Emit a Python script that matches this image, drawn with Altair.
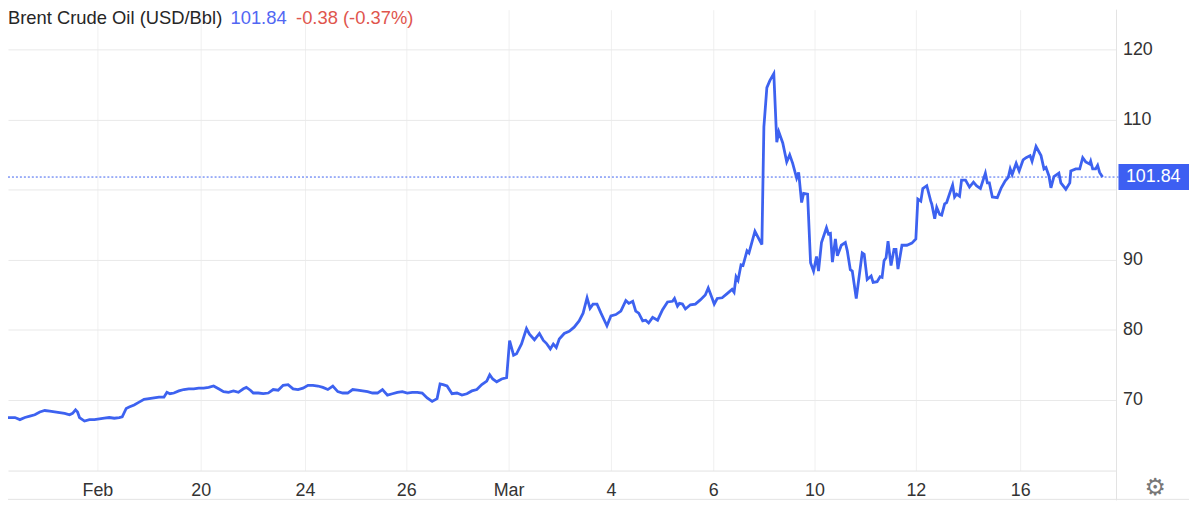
import altair as alt
import pandas as pd

# position on the (compressed) trading-session axis and Brent price
session_pos = [8, 15, 20, 25, 30, 35, 40, 45, 50, 55, 60, 65, 70, 73, 76, 78, 80, 85, 90, 95,
               100, 105, 110, 115, 120, 123, 127, 130, 135, 140, 145, 150, 155, 160, 165, 168, 171, 175, 180, 185,
               190, 195, 200, 205, 210, 215, 220, 225, 230, 235, 240, 245, 248, 252, 255, 260, 265, 270, 275, 280,
               285, 290, 295, 300, 305, 310, 315, 320, 325, 330, 335, 340, 345, 350, 355, 360, 365, 370, 375, 380,
               385, 390, 395, 400, 405, 410, 415, 420, 425, 430, 435, 440, 443, 446, 450, 455, 460, 465, 470, 475,
               480, 485, 490, 493, 496, 500, 505, 510, 513, 517, 520, 525, 530, 533, 538, 543, 547, 550, 554, 557,
               560, 563, 568, 573, 578, 583, 587, 591, 594, 597, 601, 605, 608, 611, 615, 620, 625, 630, 633, 637,
               640, 643, 647, 650, 653, 657, 662, 667, 672, 677, 679, 682, 684, 687, 690, 695, 700, 705, 710, 713,
               717, 719, 722, 727, 732, 737, 739, 741, 743, 746, 748, 752, 754, 760, 767, 769, 772, 775, 779, 782,
               784, 788, 792, 795, 798, 802, 804, 807, 809, 813, 816, 819, 822, 824, 827, 832, 834, 836, 838, 841,
               843, 847, 851, 853, 856, 858, 862, 868, 870, 873, 877, 879, 883, 886, 888, 890, 892, 894, 897, 900,
               902, 904, 908, 913, 918, 922, 924, 927, 929, 933, 937, 938, 941, 943, 946, 948, 951, 953, 957, 959,
               961, 963, 966, 968, 972, 976, 980, 983, 987, 992, 994, 996, 999, 1004, 1008, 1012, 1015, 1017, 1019, 1023,
               1026, 1030, 1033, 1037, 1039, 1043, 1048, 1051, 1053, 1056, 1058, 1061, 1066, 1068, 1073, 1077, 1078, 1083, 1087, 1090,
               1093, 1097, 1098, 1100, 1103, 1105, 1107, 1110]
price = [67.5, 67.5, 67.2, 67.5, 67.7, 67.9, 68.3, 68.5, 68.4, 68.3, 68.2, 68.1, 67.9, 68.1, 68.6, 68.3, 67.5, 67.0, 67.2, 67.2,
         67.3, 67.4, 67.5, 67.4, 67.5, 67.6, 68.8, 69.0, 69.3, 69.7, 70.1, 70.2, 70.3, 70.4, 70.4, 71.1, 70.9, 71.0, 71.3, 71.5,
         71.6, 71.6, 71.7, 71.7, 71.8, 72.0, 71.6, 71.2, 71.1, 71.3, 71.1, 71.6, 71.8, 71.4, 71.0, 71.0, 70.9, 71.0, 71.5, 71.4,
         72.1, 72.2, 71.6, 71.5, 71.7, 72.1, 72.1, 72.0, 71.8, 71.5, 72.0, 71.2, 71.0, 71.0, 71.5, 71.4, 71.3, 71.2, 71.0, 71.0,
         71.5, 70.7, 70.9, 71.1, 71.2, 71.0, 71.1, 71.1, 71.0, 70.3, 69.8, 70.2, 72.3, 72.2, 72.0, 70.9, 71.0, 70.7, 70.9, 71.3,
         71.5, 72.2, 72.7, 73.6, 73.0, 72.6, 73.0, 73.2, 78.5, 76.4, 76.6, 78.0, 80.2, 79.4, 78.6, 79.5, 78.5, 78.1, 77.3, 78.0,
         77.5, 78.7, 79.5, 79.8, 80.4, 81.3, 82.4, 84.6, 83.1, 83.7, 83.7, 82.4, 81.5, 80.6, 82.0, 82.2, 82.7, 84.2, 83.8, 84.1,
         82.7, 82.4, 81.3, 81.4, 81.0, 81.8, 81.4, 82.9, 84.0, 84.1, 84.5, 83.4, 83.8, 83.7, 83.0, 83.6, 83.7, 84.3, 85.0, 86.0,
         84.5, 83.7, 84.5, 84.6, 85.2, 85.8, 85.4, 87.6, 87.1, 89.3, 89.2, 91.3, 91.0, 94.1, 92.2, 109.0, 114.6, 115.6, 116.6, 106.8,
         108.3, 106.7, 104.0, 105.0, 103.8, 101.7, 102.5, 98.2, 99.5, 99.4, 89.6, 88.4, 90.5, 88.4, 92.5, 94.6, 93.7, 93.8, 89.7, 93.0,
         90.6, 92.1, 92.5, 91.3, 88.6, 88.4, 84.5, 91.0, 90.8, 87.2, 87.7, 86.8, 86.9, 87.6, 87.5, 89.9, 90.3, 92.7, 89.2, 91.5,
         91.5, 88.7, 92.1, 92.1, 92.4, 93.0, 98.7, 98.4, 100.2, 100.6, 98.4, 98.0, 95.9, 97.5, 96.5, 96.4, 98.0, 98.2, 99.9, 100.7,
         99.0, 99.4, 99.1, 101.4, 101.4, 100.4, 101.1, 100.6, 100.2, 102.4, 101.0, 101.0, 99.0, 98.9, 100.3, 101.3, 101.8, 103.0, 102.2, 103.8,
         102.7, 104.3, 104.6, 104.9, 104.1, 106.2, 104.9, 103.0, 103.2, 102.0, 100.3, 101.9, 102.4, 101.0, 100.1, 101.0, 102.7, 103.0, 103.0, 104.6,
         104.0, 103.7, 104.1, 103.0, 103.0, 103.5, 102.5, 101.84]

tick_pos = [98, 202, 307, 409, 512, 615, 718, 820, 922, 1027]
tick_labels = ["Feb", "20", "24", "26", "Mar", "4", "6", "10", "12", "16"]
y_ticks = [70, 80, 90, 100, 110, 120]

title_name = "Brent Crude Oil (USD/Bbl)"
last_price = 101.84
change = -0.38
change_pct = -0.37

LINE_BLUE = "#3d62f0"
BOX_BLUE = "#3d5ff2"
TEXT_BLUE = "#5167f3"
RED = "#e0554d"
FONT = "Liberation Sans"

line_df = pd.DataFrame({"t": session_pos, "price": price})
last_df = pd.DataFrame({"price": [last_price], "label": [f"{last_price:.2f}"]})
one = pd.DataFrame({"k": [0]})

W, H = 1115, 464
x_scale = alt.Scale(domain=[8, 1123], nice=False, zero=False)
y_scale = alt.Scale(domain=[59.93, 125.74], nice=False, zero=False)

label_expr = ("[" + ",".join(f"'{l}'" for l in tick_labels) + "][indexof(["
              + ",".join(str(p) for p in tick_pos) + "], datum.value)]")

y_axis = alt.Axis(orient="right", values=y_ticks, title=None,
                  labelExpr="datum.value == 100 ? '' : datum.label",
                  grid=True, gridColor="#e9e9e9", domain=False, ticks=False,
                  labelFontSize=18, labelColor="#333333", labelFont=FONT,
                  labelPadding=7, labelAlign="left")

line = alt.Chart(line_df).mark_line(color=LINE_BLUE, strokeWidth=2.8, clip=True).encode(
    x=alt.X("t:Q", scale=x_scale,
            axis=alt.Axis(values=tick_pos, labelExpr=label_expr, title=None, grid=True,
                          gridColor="#f0f0f0", domainColor="#e2e2e2", ticks=False,
                          labelFontSize=18, labelColor="#333333", labelFont=FONT,
                          labelPadding=11, labelBaseline="top")),
    y=alt.Y("price:Q", scale=y_scale, axis=y_axis),
)

dotted = alt.Chart(last_df).mark_rule(color=LINE_BLUE, strokeDash=[2, 2], strokeWidth=1).encode(
    y=alt.Y("price:Q", scale=y_scale, axis=y_axis), x=alt.value(0), x2=alt.value(1118))

box = alt.Chart(last_df).mark_rect(color=BOX_BLUE, yOffset=-13, y2Offset=13).encode(
    y=alt.Y("price:Q", scale=y_scale, axis=y_axis), y2=alt.Y2("price"),
    x=alt.value(1118), x2=alt.value(1189))

box_text = alt.Chart(last_df).mark_text(color="white", fontSize=18, font=FONT,
                                        align="center", baseline="middle").encode(
    y=alt.Y("price:Q", scale=y_scale, axis=y_axis), x=alt.value(1153), text="label:N")

sep_v = alt.Chart(one).mark_rule(color="#e3e3e3").encode(
    x=alt.value(1116), y=alt.value(0), y2=alt.value(494))
sep_h = alt.Chart(one).mark_rule(color="#e3e3e3").encode(
    x=alt.value(0), x2=alt.value(1189), y=alt.value(493))

gear = alt.Chart(one).mark_text(text="⚙", fontSize=24, color="#777777", font="DejaVu Sans",
                                align="center", baseline="middle").encode(
    x=alt.value(1155), y=alt.value(482))

t1 = alt.Chart(one).mark_text(text=title_name, fontSize=18.5, color="#262626", font=FONT,
                              align="left", baseline="middle").encode(x=alt.value(0), y=alt.value(8))
t2 = alt.Chart(one).mark_text(text=f"{last_price:.2f}", fontSize=18.5, color=TEXT_BLUE, font=FONT,
                              align="left", baseline="middle").encode(x=alt.value(224), y=alt.value(8))
t3 = alt.Chart(one).mark_text(text=f"{change:.2f} ({change_pct:.2f}%)", fontSize=18.5, color=RED,
                              font=FONT, align="left", baseline="middle").encode(x=alt.value(290), y=alt.value(8))

chart = alt.layer(line, dotted, sep_v, sep_h, box, box_text, gear, t1, t2, t3).properties(
    width=W, height=H,
    background="white",
    autosize=alt.AutoSizeParams(type="none"),
    padding={"left": 0, "top": 0, "right": 74, "bottom": 30},
).configure_view(stroke="transparent")

chart.save("out.html", embed_options={"renderer": "svg", "actions": False})
